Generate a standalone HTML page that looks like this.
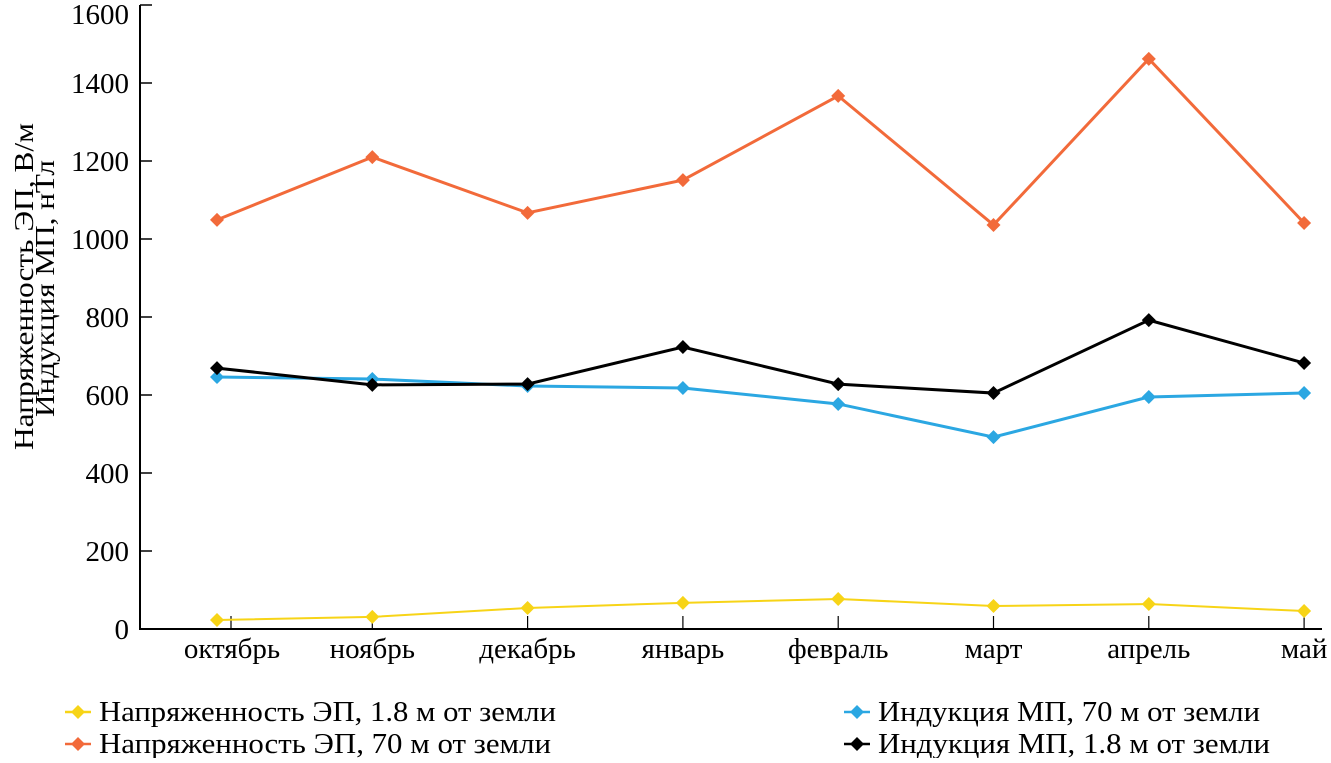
<!DOCTYPE html>
<html><head><meta charset="utf-8"><style>
body{margin:0;background:#fff}
svg text{font-family:"Liberation Serif",serif;fill:#000}
</style></head><body>
<svg id="c" width="1331" height="758" xmlns="http://www.w3.org/2000/svg"></svg>
<script>
const categories=["октябрь","ноябрь","декабрь","январь","февраль","март","апрель","май"];
const yTicks=[0,200,400,600,800,1000,1200,1400,1600];
const seriesNames=["Напряженность ЭП, 1.8 м от земли","Напряженность ЭП, 70 м от земли","Индукция МП, 70 м от земли","Индукция МП, 1.8 м от земли"];
const seriesColors=["#f7d417","#f26a3a","#2ba7e2","#000000"];
const eField18=[23,31,54,67,77,59,64,46];
const eField70=[1049,1210,1067,1151,1367,1036,1462,1041];
const mField70=[646,641,623,618,577,492,595,605];
const mField18=[669,626,628,723,628,605,792,682];
const allSeries=[eField18,eField70,mField70,mField18];
const NS="http://www.w3.org/2000/svg";
const svg=document.getElementById('c');
function el(t,a,p){const e=document.createElementNS(NS,t);for(const k in a)e.setAttribute(k,a[k]);(p||svg).appendChild(e);return e;}
const x0=217,dx=155.3;
function xs(i){return x0+i*dx;}
function ys(v){return 629-v*0.39;}
let a=el('line',{x1:140,y1:5,x2:140,y2:629,stroke:'#000','stroke-width':2});

a=el('line',{x1:139,y1:629,x2:1322,y2:629,stroke:'#000','stroke-width':2});

yTicks.forEach(v=>{
 const y=ys(v);
 el('line',{x1:140,y1:y,x2:152,y2:y,stroke:'#000','stroke-width':1.5});
 const t=el('text',{x:129,y:Math.max(y+10,24),'text-anchor':'end','font-size':29});
 t.textContent=v;
 
 
});
categories.forEach((c,i)=>{
 const tx=i==0?231:xs(i);
 el('line',{x1:tx,y1:629,x2:tx,y2:616,stroke:'#000','stroke-width':1.2});
 const t=el('text',{x:xs(i)+(i==0?15:0),y:658,'text-anchor':'middle','font-size':29});
 t.textContent=c;
 
 
});
const t1=el('text',{transform:'translate(33,450) rotate(-90)','font-size':27,textLength:327,lengthAdjust:'spacingAndGlyphs'});
t1.textContent="Напряженность ЭП, В/м";


const t2=el('text',{transform:'translate(54,417) rotate(-90)','font-size':27,textLength:257,lengthAdjust:'spacingAndGlyphs'});
t2.textContent="Индукция МП, нТл";


allSeries.forEach((s,k)=>{
 const pts=s.map((v,i)=>xs(i)+','+ys(v)).join(' ');
 const l=el('polyline',{points:pts,fill:'none',stroke:seriesColors[k],'stroke-width':k==0?2:3});
 
 
 s.forEach((v,i)=>{
  const x=xs(i),y=ys(v);
  const m=el('polygon',{points:`${x},${y-7} ${x+7},${y} ${x},${y+7} ${x-7},${y}`,fill:seriesColors[k]});
  
  
 });
});
const legPos=[[78,712],[78,744],[857,712],[857,744]];
const legLen=[457,452,382,392];
seriesNames.forEach((n,k)=>{
 const [x,y]=legPos[k];
 const g=el('g',{});
 
 
 el('line',{x1:x-13,y1:y,x2:x+13,y2:y,stroke:seriesColors[k],'stroke-width':2.5},g);
 el('polygon',{points:`${x},${y-7} ${x+7},${y} ${x},${y+7} ${x-7},${y}`,fill:seriesColors[k]},g);
 const t=el('text',{x:x+21,y:y+9,'font-size':29,textLength:legLen[k],lengthAdjust:'spacingAndGlyphs'},g);
 t.textContent=n;
});
</script>
</body></html>
